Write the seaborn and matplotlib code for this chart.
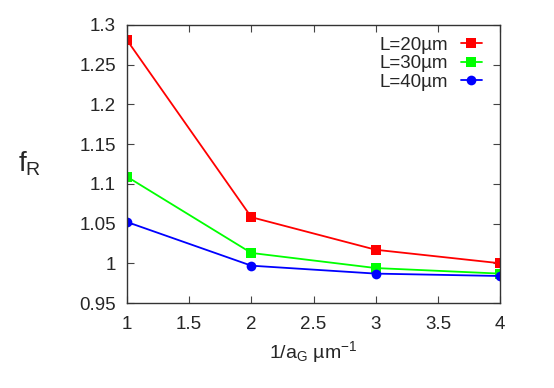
import pandas as pd
import matplotlib
matplotlib.use("Agg")
import matplotlib.pyplot as plt
import seaborn as sns

sns.set_style("ticks")
plt.rcParams['font.family'] = ['Liberation Sans', 'DejaVu Sans']
plt.rcParams['mathtext.fontset'] = 'custom'
plt.rcParams['mathtext.rm'] = 'Liberation Sans'
plt.rcParams['mathtext.it'] = 'Liberation Sans'

# data
inv_a = [1, 2, 3, 4]
f_20 = [1.281, 1.058, 1.017, 1.000]
f_30 = [1.109, 1.013, 0.994, 0.987]
f_40 = [1.052, 0.997, 0.987, 0.984]
labels = ["L=20µm", "L=30µm", "L=40µm"]
colors = ["#ff0000", "#00ff00", "#0000ff"]
markers = ["s", "s", "o"]

fig = plt.figure(figsize=(5.54, 3.88), dpi=100)
ax = fig.add_axes([0.229, 0.219, 0.674, 0.717])

for ys, lab, c, m in zip([f_20, f_30, f_40], labels, colors, markers):
    df = pd.DataFrame({"x": inv_a, "y": ys})
    sns.lineplot(data=df, x="x", y="y", ax=ax, color=c, marker=m,
                 markersize=7, markeredgewidth=0, linewidth=1.3, label=lab)

ax.set_xlim(1, 4)
ax.set_ylim(0.95, 1.3)
ax.set_xticks([1, 1.5, 2, 2.5, 3, 3.5, 4])
ax.set_xticklabels(["1", "1.5", "2", "2.5", "3", "3.5", "4"])
ax.set_yticks([0.95, 1.0, 1.05, 1.1, 1.15, 1.2, 1.25, 1.3])
ax.set_yticklabels(["0.95", "1", "1.05", "1.1", "1.15", "1.2", "1.25", "1.3"])
ax.tick_params(direction="in", top=True, right=True, labelsize=13.5,
               length=5, width=0.8, color="#444444")
ax.tick_params(axis="x", pad=9)
ax.tick_params(axis="y", pad=8)
for s in ax.spines.values():
    s.set_color("#333333")
    s.set_linewidth(1.0)

ax.set_xlabel("1/a$_{\\mathrm{G}}$ µm$^{-1}$", fontsize=14, labelpad=5)
ax.set_ylabel("f$_{\\mathrm{R}}$", fontsize=20, rotation=0, labelpad=36, va="center")

ax.legend(loc="upper right", frameon=False, markerfirst=False, fontsize=13.5,
          handlelength=1.1, handletextpad=0.7, labelspacing=0.08,
          borderaxespad=0.3, bbox_to_anchor=(0.985, 1.005))

fig.savefig("out.png", dpi=100)
